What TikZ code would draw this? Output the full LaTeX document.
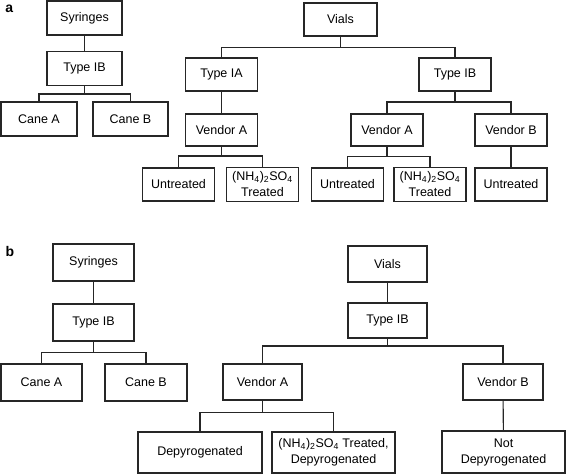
\documentclass[tikz,border=0pt]{standalone}
\usepackage{fontspec}
\setmainfont{Liberation Sans}
\usetikzlibrary{positioning}

\begin{document}
\begin{tikzpicture}[x=1pt,y=-1pt,
    box/.style={draw=black!85,line width=1.1pt,inner sep=0pt,align=center,
        font=\fontsize{12.5}{16}\selectfont,minimum width=72pt,minimum height=33pt},
    sbox/.style={box,minimum width=75pt,minimum height=34pt},
    bbox/.style={box,minimum width=80pt,minimum height=37pt},
    wbox/.style={box,minimum width=123pt,minimum height=41pt},
    link/.style={draw=black!85,line width=1.1pt},
    tag/.style={font=\fontsize{14}{16}\selectfont\bfseries}]
                \useasboundingbox (0,0) rectangle (567,475);
                % panel a
                \node[tag] (la) at (9.3,9) {a};
                \node[sbox] (aSyr) at (84.5,18) {Syringes};
                \node[sbox] (aSyrIB) at (84.5,68.5) {Type IB};
                \node[sbox,minimum width=76pt] (aCaneA) at (39,119) {Cane A};
                \node[sbox] (aCaneB) at (130.5,119) {Cane B};
                \coordinate (aJ1) at (84.5,94);
                \draw[link] (aSyr) -- (aSyrIB);
                \draw[link] (aSyrIB) -- (aJ1);
                \draw[link] (aCaneA.north) |- (aJ1) -| (aCaneB.north);
                \node[box,minimum width=73pt] (aVials) at (340.5,19.5) {Vials};
                \node[box] (aTypeIA) at (221.5,74.5) {Type IA};
                \node[box] (aTypeIB) at (455,74.5) {Type IB};
                \coordinate (aJ2) at (340.5,47.5);
                \draw[link] (aVials) -- (aJ2);
                \draw[link] (aTypeIA.north) |- (aJ2) -| (aTypeIB.north);
                \node[box,minimum height=32pt] (aVendA1) at (221.5,130) {Vendor A};
                \draw[link] (aTypeIA) -- (aVendA1);
                \node[box] (aUntr1) at (178.5,184.5) {Untreated};
                \node[box,minimum height=34pt] (aTreat1) at (262.5,184.5) {(NH\textsubscript{4})\textsubscript{2}SO\textsubscript{4}\\Treated};
                \coordinate (aJ3) at (221.5,156);
                \draw[link] (aVendA1) -- (aJ3);
                \draw[link] (aUntr1.north) |- (aJ3) -| (aTreat1.north);
                \node[box,minimum height=32pt] (aVendA2) at (387,130) {Vendor A};
                \node[box,minimum height=32pt] (aVendB) at (511,130) {Vendor B};
                \coordinate (aJ4) at (455,102);
                \draw[link] (aTypeIB) -- (aJ4);
                \draw[link] (aVendA2.north) |- (aJ4) -| (aVendB.north);
                \node[box] (aUntr2) at (347.5,184.5) {Untreated};
                \node[box,minimum height=34pt] (aTreat2) at (430,184.5) {(NH\textsubscript{4})\textsubscript{2}SO\textsubscript{4}\\Treated};
                \node[box] (aUntr3) at (511,184.5) {Untreated};
                \coordinate (aJ5) at (387,156.5);
                \draw[link] (aVendA2) -- (aJ5);
                \draw[link] (aUntr2.north) |- (aJ5) -| (aTreat2.north);
                \draw[link] (aVendB) -- (aUntr3);
                % panel b
                \node[tag] (lb) at (10,251) {b};
                \node[bbox,minimum width=81pt] (bSyr) at (93.5,262.5) {Syringes};
                \node[bbox,minimum width=81pt] (bSyrIB) at (93.5,322.5) {Type IB};
                \node[bbox,minimum width=81pt] (bCaneA) at (41.5,382.5) {Cane A};
                \node[bbox,minimum width=82pt] (bCaneB) at (146,382.5) {Cane B};
                \coordinate (bJ1) at (93.5,352.5);
                \draw[link] (bSyr) -- (bSyrIB);
                \draw[link] (bSyrIB) -- (bJ1);
                \draw[link] (bCaneA.north) |- (bJ1) -| (bCaneB.north);
                \node[bbox,minimum width=79pt,minimum height=36pt] (bVials) at (387.5,264) {Vials};
                \node[bbox,minimum width=79pt,minimum height=35pt] (bTypeIB) at (387.5,320.5) {Type IB};
                \draw[link] (bVials) -- (bTypeIB);
                \node[bbox,minimum width=79pt,minimum height=36pt] (bVendA) at (262.5,382) {Vendor A};
                \node[bbox,minimum height=36pt] (bVendB) at (503,382) {Vendor B};
                \coordinate (bJ2) at (387.5,346);
                \draw[link] (bTypeIB) -- (bJ2);
                \draw[link] (bVendA.north) |- (bJ2) -| (bVendB.north);
                \node[wbox,minimum width=124pt] (bDepy) at (200,452.5) {Depyrogenated};
                \node[wbox] (bTreat) at (333.5,452.5) {(NH\textsubscript{4})\textsubscript{2}SO\textsubscript{4} Treated,\\Depyrogenated};
                \node[wbox,minimum height=42pt] (bNotDepy) at (503.5,452) {Not\\Depyrogenated};
                \coordinate (bJ3) at (262.5,412.5);
                \draw[link] (bVendA) -- (bJ3);
                \draw[link] (bDepy.north) |- (bJ3) -| (bTreat.north);
                \draw[link] (bVendB) -- (bNotDepy);
            \end{tikzpicture}
\end{document}
